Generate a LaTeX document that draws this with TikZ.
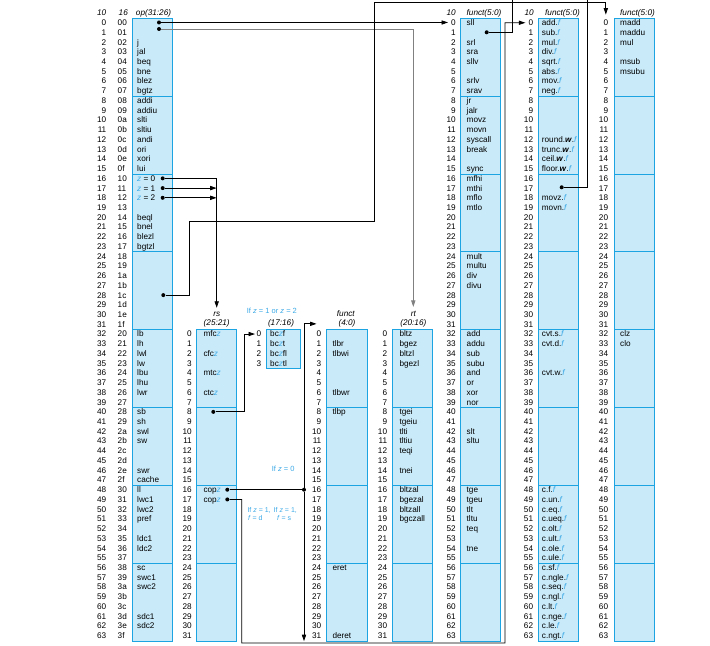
\documentclass[tikz,border=0pt]{standalone}
\usepackage{fontspec}
\setmainfont{Liberation Sans}
\usetikzlibrary{arrows.meta}
\definecolor{cellfill}{HTML}{C9EAF9}
\definecolor{cellline}{HTML}{1BA3E2}
\definecolor{zblue}{HTML}{3BA9E6}
\newcommand{\tabfont}{\fontsize{8.2}{9}\selectfont}
\newcommand{\zit}{\textcolor{zblue}{\textit{z}}}
\newcommand{\fit}{\textcolor{zblue}{\textit{f}}}
\newcommand{\wit}{\textbf{\textit{w}}}
\tikzset{
  tbl/.style={draw=cellline, fill=cellfill, line width=0.9pt},
  sep/.style={draw=cellline, line width=0.9pt},
  num/.style={anchor=base east, inner sep=0pt},
  ent/.style={anchor=base west, inner sep=0pt},
  hdr/.style={anchor=base, inner sep=0pt, font=\tabfont\itshape},
  blue label/.style={anchor=base west, inner sep=0pt, text=zblue, font=\fontsize{7}{8}\selectfont},
  wire/.style={line width=0.8pt},
  arr/.style={wire, -{Triangle[length=6.5pt,width=4.2pt]}},
  bullet/.style={circle, fill, inner sep=0pt, minimum size=4pt},
}
\begin{document}
\begin{tikzpicture}[x=1pt, y=-9.73pt, font=\tabfont]
\useasboundingbox (0,0) rectangle (710,66.39);
\foreach \xa/\xb in {132.7/172.3, 460.7/500.5, 538.3/578.3, 614.3/654.3} {
  \draw[tbl] (\xa,1.88) rectangle (\xb,65.88);
  \foreach \s in {1,...,7} \draw[sep] (\xa,{8*\s+1.88}) -- (\xb,{8*\s+1.88});
}
\foreach \xa/\xb in {196.7/236.7, 326.7/367.3, 392.3/432.7} {
  \draw[tbl] (\xa,33.88) rectangle (\xb,65.88);
  \foreach \s in {1,2,3} \draw[sep] (\xa,{8*\s+33.88}) -- (\xb,{8*\s+33.88});
}
\draw[tbl] (266.7,33.88) rectangle (300,37.88);

\node[num,font=\tabfont\itshape] (op-t10) at (106.5,1.57) {10};
\node[ent,font=\tabfont\itshape] (op-t16) at (118.5,1.57) {16};
\node[hdr] (op-t) at (153.5,1.57) {op(31:26)};
\node[num,font=\tabfont\itshape] (f1-t10) at (456,1.57) {10};
\node[hdr] (f1-t) at (484,1.57) {funct(5:0)};
\node[num,font=\tabfont\itshape] (f2-t10) at (534,1.57) {10};
\node[hdr] (f2-t) at (562.5,1.57) {funct(5:0)};
\node[hdr] (f3-t) at (637.5,1.57) {funct(5:0)};
\node[hdr] (rs-t) at (216.7,32.52) {rs};
\node[hdr] (rs-b) at (216.7,33.5) {(25:21)};
\node[hdr] (bc-b) at (281,33.5) {(17:16)};
\node[hdr] (fn-t) at (345.8,32.52) {funct};
\node[hdr] (fn-b) at (347,33.5) {(4:0)};
\node[hdr] (rt-t) at (413.3,32.52) {rt};
\node[hdr] (rt-b) at (413.3,33.5) {(20:16)};

\foreach \r in {0,...,63} {
  \node[num] (op-d\r) at (106.5,{\r+2.63}) {\r};
  \node[num] (f1-d\r) at (456,{\r+2.63}) {\r};
  \node[num] (f2-d\r) at (533.3,{\r+2.63}) {\r};
  \node[num] (f3-d\r) at (608.3,{\r+2.63}) {\r};
}
\foreach \a in {0,...,3}
  \foreach \b [count=\c from 0] in {0,...,9,a,b,c,d,e,f}
    \node[ent] (op-h\a\b) at (117.5,{16*\a+\c+2.63}) {\a\b};
\foreach \r in {0,...,31} {
  \node[num] (rs-d\r) at (192,{\r+34.63}) {\r};
  \node[num] (fn-d\r) at (321.5,{\r+34.63}) {\r};
  \node[num] (rt-d\r) at (387.3,{\r+34.63}) {\r};
}
\foreach \r in {0,...,3} \node[num] (bc-d\r) at (261.5,{\r+34.63}) {\r};

\foreach \r/\t in {2/j,3/jal,4/beq,5/bne,6/blez,7/bgtz,8/addi,9/addiu,10/slti,11/sltiu,12/andi,13/ori,14/xori,15/lui,
  16/{\zit{} = 0},17/{\zit{} = 1},18/{\zit{} = 2},20/beql,21/bnel,22/blezl,23/bgtzl,32/lb,33/lh,34/lwl,35/lw,36/lbu,37/lhu,38/lwr,
  40/sb,41/sh,42/swl,43/sw,46/swr,47/cache,48/ll,49/lwc1,50/lwc2,51/pref,53/ldc1,54/ldc2,56/sc,57/swc1,58/swc2,61/sdc1,62/sdc2}
  \node[ent] (op-\r) at (137,{\r+2.63}) {\t};
\foreach \r/\t in {0/mfc\zit,2/cfc\zit,4/mtc\zit,6/ctc\zit,16/cop\zit,17/cop\zit}
  \node[ent] (rs-\r) at (203.3,{\r+34.63}) {\t};
\foreach \r/\t in {0/bc\zit{}f,1/bc\zit{}t,2/bc\zit{}fl,3/bc\zit{}tl}
  \node[ent] (bc-\r) at (270,{\r+34.63}) {\t};
\foreach \r/\t in {1/tlbr,2/tlbwi,6/tlbwr,8/tlbp,24/eret,31/deret}
  \node[ent] (fn-\r) at (332.3,{\r+34.63}) {\t};
\foreach \r/\t in {0/bltz,1/bgez,2/bltzl,3/bgezl,8/tgei,9/tgeiu,10/tlti,11/tltiu,12/teqi,14/tnei,16/bltzal,17/bgezal,18/bltzall,19/bgczall}
  \node[ent] (rt-\r) at (399.3,{\r+34.63}) {\t};
\foreach \r/\t in {0/sll,2/srl,3/sra,4/sllv,6/srlv,7/srav,8/jr,9/jalr,10/movz,11/movn,12/syscall,13/break,15/sync,
  16/mfhi,17/mthi,18/mflo,19/mtlo,24/mult,25/multu,26/div,27/divu,32/add,33/addu,34/sub,35/subu,36/and,37/or,38/xor,39/nor,
  42/slt,43/sltu,48/tge,49/tgeu,50/tlt,51/tltu,52/teq,54/tne}
  \node[ent] (f1-\r) at (466.5,{\r+2.63}) {\t};
\foreach \r/\t in {0/add.\fit,1/sub.\fit,2/mul.\fit,3/div.\fit,4/sqrt.\fit,5/abs.\fit,6/mov.\fit,7/neg.\fit,
  12/round.\wit.\fit,13/trunc.\wit.\fit,14/ceil.\wit.\fit,15/floor.\wit.\fit,18/movz.\fit,19/movn.\fit,
  32/cvt.s.\fit,33/cvt.d.\fit,36/cvt.w.\fit,48/c.f.\fit,49/c.un.\fit,50/c.eq.\fit,51/c.ueq.\fit,52/c.olt.\fit,53/c.ult.\fit,
  54/c.ole.\fit,55/c.ule.\fit,56/c.sf.\fit,57/c.ngle.\fit,58/c.seq.\fit,59/c.ngl.\fit,60/c.lt.\fit,61/c.nge.\fit,62/c.le.\fit,63/c.ngt.\fit}
  \node[ent] (f2-\r) at (541.7,{\r+2.63}) {\t};
\foreach \r/\t in {0/madd,1/maddu,2/mul,4/msub,5/msubu,32/clz,33/clo}
  \node[ent] (f3-\r) at (620,{\r+2.63}) {\t};

\node[blue label, font=\fontsize{7.5}{8}\selectfont] (lb-z12) at (246.7,32.22) {If \textit{z} = 1 or \textit{z} = 2};
\node[blue label, font=\fontsize{7.5}{8}\selectfont] (lb-z0) at (271.7,48.43) {If \textit{z} = 0};
\node[blue label] (lb-d1) at (247.3,52.71) {If \textit{z} = 1,};
\node[blue label] (lb-d2) at (248,53.46) {\textit{f} = d};
\node[blue label] (lb-s1) at (273.5,52.71) {If \textit{z} = 1,};
\node[blue label] (lb-s2) at (277,53.46) {\textit{f} = s};

\node[bullet] (op-s0) at (159,2.31) {};
\node[bullet] (op-s1) at (159,2.98) {};
\foreach \r in {16,17,18} \node[bullet] (op-s\r) at (162.7,{\r+2.33}) {};
\node[bullet] (op-s28) at (163.3,30.33) {};
\node[bullet] (rs-s8) at (213.3,42.33) {};
\node[bullet] (rs-s16) at (227.3,50.33) {};
\node[bullet] (rs-s17) at (227.3,51.33) {};
\node[bullet] (jn) at (304,50.33) {};
\node[bullet] (f1-s1) at (486.7,3.32) {};
\node[bullet] (f2-s17) at (561.7,19.25) {};
\coordinate (top-a) at (512.3,0);
\coordinate (top-b) at (587.3,0);
\coordinate (jn-end) at (304,65.9);
\coordinate (bc-in) at (244,34.33);

\draw[arr, shorten >=3pt] (op-s0) -- (op-s0 -| f1-d0.west);
\draw[arr, gray, shorten >=4pt] (op-s1) -| (rt-t);
\draw[arr, shorten >=4pt] (op-s16) -| (rs-t);
\foreach \r in {17,18} \draw[arr] (op-s\r) -- (op-s\r -| rs-t);
\draw[arr, shorten >=5pt] (op-s28) -| (189.3,22.71) -| (374.3,0.28) -| (f3-d0.north);
\draw[wire] (f1-s1) -| (top-a);
\draw[wire] (f2-s17) -| (top-b);
\draw[arr, shorten >=1.5pt] (rs-s8) -| (bc-in) -- (bc-in -| bc-d0.west);
\draw[wire] (rs-s16) -- (jn);
\draw[arr] (jn) |- (fn-d0.west |- fn-b);
\draw[arr] (jn) -- (jn-end);
\draw[arr, shorten >=3pt] (rs-s17) -| (241.7,66.08) -| (505,2.33) -- (f2-d0.west);
\end{tikzpicture}
\end{document}
